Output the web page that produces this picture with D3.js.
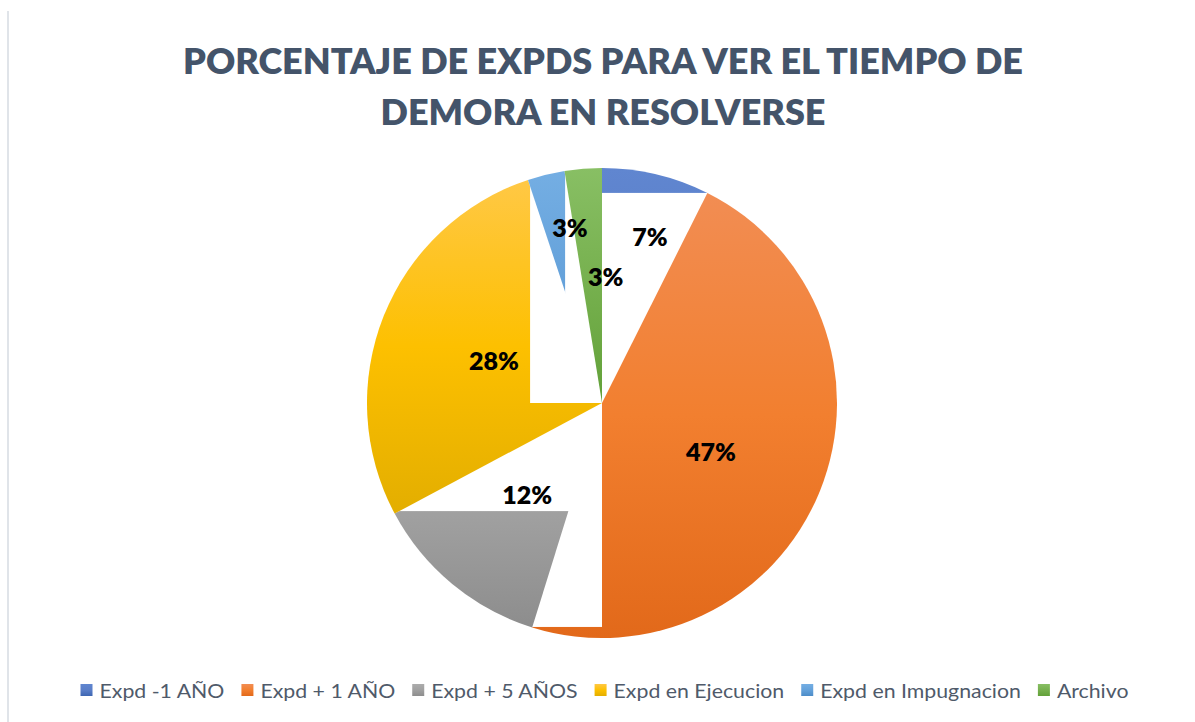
<!DOCTYPE html>
<html>
<head>
<meta charset="utf-8">
<script src="https://cdn.jsdelivr.net/npm/d3@7"></script>
<style>
  html, body { margin: 0; padding: 0; background: #ffffff; }
  svg { display: block; }
</style>
</head>
<body>
<svg id="chart" width="1195" height="722"></svg>
<script>
// ---------------- DATA ----------------
const titleLines = ["PORCENTAJE DE EXPDS PARA VER EL TIEMPO DE", "DEMORA EN RESOLVERSE"];
const categories = ["Expd -1 AÑO", "Expd + 1 AÑO", "Expd + 5 AÑOS", "Expd en Ejecucion", "Expd en Impugnacion", "Archivo"];
const values = [7.4, 47.4, 12.4, 27.7, 2.55, 2.55];

// ---------------- STYLE / LAYOUT ----------------
const W = 1195, H = 722;
const cx = 602, cy = 403, R = 235;
const palette = [
  ["#6086D0", "#5A7EC8", "#3E66B2"],
  ["#F28D53", "#F27F2F", "#E2691A"],
  ["#ACACAC", "#A0A0A0", "#8D8D8D"],
  ["#FFC845", "#FDC000", "#E3AE00"],
  ["#74AEE3", "#64A1DA", "#4C8CC8"],
  ["#88BF64", "#76B04E", "#62A139"]
];
// white label-background boxes (relative to centre, in radius units), drawn right after their slice
const labelBoxes = [
  {x0: 0, x1: 0.6, y0: -0.894, y1: 0},
  {x0: -0.36, x1: 0, y0: 0, y1: 0.953},
  {x0: -1.05, x1: 0, y0: 0, y1: 0.460},
  {x0: -0.306, x1: 0, y0: -1.05, y1: 0},
  {x0: -0.157, x1: 0, y0: -1.05, y1: 0},
  null
];
const labelNudge = [[21, -52], [0, 5], [0, 1], [1, 2], [-4, -61], [13, -9]];

const svg = d3.select("#chart");
const defs = svg.append("defs");
palette.forEach((p, i) => {
  const g = defs.append("linearGradient").attr("id", "grad" + i)
    .attr("x1", 0).attr("y1", 0).attr("x2", 0).attr("y2", 1);
  g.append("stop").attr("offset", "0%").attr("stop-color", p[0]);
  g.append("stop").attr("offset", "50%").attr("stop-color", p[1]);
  g.append("stop").attr("offset", "100%").attr("stop-color", p[2]);
});

// left border line
svg.append("line").attr("x1", 8).attr("x2", 8).attr("y1", 11).attr("y2", H)
  .attr("stroke", "#E0E4E9").attr("stroke-width", 2);

// title
const title = svg.append("g");
const titleWidths = [840, 445];
titleLines.forEach((t, i) => {
  title.append("text")
    .attr("x", 603).attr("y", 74 + i * 51)
    .attr("text-anchor", "middle")
    .attr("font-family", "Lato, 'Open Sans', sans-serif")
    .attr("font-weight", 800)
    .attr("font-size", 36)
    .attr("fill", "#44546A")
    .attr("textLength", titleWidths[i])
    .attr("lengthAdjust", "spacingAndGlyphs")
    .text(t);
});

// pie
const pie = d3.pie().sort(null).value(d => d)(values);
const arc = d3.arc().innerRadius(0).outerRadius(R);
const labelArc = d3.arc().innerRadius(R * 0.5).outerRadius(R * 0.5);
const total = d3.sum(values);
const pg = svg.append("g").attr("transform", `translate(${cx},${cy})`);

pie.forEach((d, i) => {
  pg.append("path").attr("d", arc(d)).attr("fill", `url(#grad${i})`);
  const b = labelBoxes[i];
  if (b) {
    pg.append("rect")
      .attr("x", b.x0 * R).attr("y", b.y0 * R)
      .attr("width", (b.x1 - b.x0) * R).attr("height", (b.y1 - b.y0) * R)
      .attr("fill", "#ffffff");
  }
});

pie.forEach((d, i) => {
  const c = labelArc.centroid(d);
  pg.append("text")
    .attr("x", c[0] + labelNudge[i][0]).attr("y", c[1] + labelNudge[i][1])
    .attr("dy", "0.36em")
    .attr("text-anchor", "middle")
    .attr("font-family", "Lato, 'Open Sans', sans-serif")
    .attr("font-weight", 800)
    .attr("font-size", 25)
    .attr("fill", "#000000")
    .text(Math.round(d.value / total * 100) + "%");
});

// legend
const lg = svg.append("g");
const sq = 12, gapST = 7, gapItem = 17;
const items = categories.map((c, i) => {
  const t = lg.append("text")
    .attr("font-family", "Lato, 'Open Sans', sans-serif")
    .attr("font-size", 20)
    .attr("fill", "#4F5A6A")
    .attr("y", 698)
    .text(c);
  return {t, w: t.node().getComputedTextLength(), i};
});
const natural = d3.sum(items, d => d.w);
const k = 849 / natural;
items.forEach(d => { d.w2 = d.w * k; d.t.attr("textLength", d.w2).attr("lengthAdjust", "spacingAndGlyphs"); });
const totalW = d3.sum(items, d => sq + gapST + d.w2) + gapItem * (items.length - 1);
let x = 604.5 - totalW / 2;
items.forEach(d => {
  lg.append("rect").attr("x", x).attr("y", 684).attr("width", sq).attr("height", sq)
    .attr("fill", `url(#grad${d.i})`);
  d.t.attr("x", x + sq + gapST);
  x += sq + gapST + d.w2 + gapItem;
});
</script>
</body>
</html>
